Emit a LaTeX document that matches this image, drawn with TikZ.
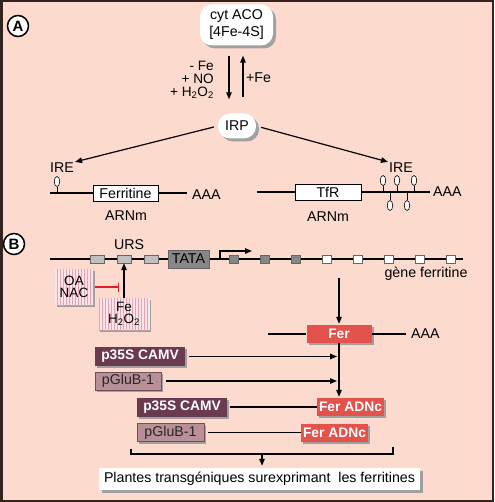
\documentclass[tikz,border=0pt]{standalone}
\usepackage{fontspec}
\setmainfont{Liberation Sans}
\usetikzlibrary{arrows.meta,shapes.geometric,shadows,patterns}

\definecolor{bgpink}{RGB}{252,218,206}
\definecolor{framebrown}{RGB}{50,35,30}
\definecolor{shadowgray}{RGB}{160,160,160}
\definecolor{ferred}{RGB}{228,82,76}
\definecolor{promdark}{RGB}{108,58,78}
\definecolor{promlight}{RGB}{186,144,152}
\definecolor{promedge}{RGB}{110,80,88}
\definecolor{ursgray}{RGB}{192,192,192}
\definecolor{tatagray}{RGB}{135,135,135}
\definecolor{stripebg}{RGB}{251,230,234}
\definecolor{stripered}{RGB}{232,160,178}
\definecolor{inhibred}{RGB}{222,30,45}

\newcommand{\dfont}{\fontsize{14.2}{16}\selectfont}

\tikzset{
  grayshadow/.style={drop shadow={shadow xshift=#1,shadow yshift=-#1,fill=shadowgray,opacity=1}},
  grayshadow/.default=3pt,
  conn/.style={line width=1.2pt},
  arr/.style={conn,-{Triangle[length=7pt,width=5.5pt]}},
  tag/.style={circle,draw,line width=1.5pt,fill=white,minimum size=21pt,inner sep=0pt,font=\fontsize{15}{16}\selectfont\bfseries},
  bubble/.style={fill=white,rounded corners=12pt,grayshadow,align=center,inner sep=0pt},
  mbox/.style={draw,line width=0.6pt,fill=white,minimum height=16pt,inner sep=0pt},
  stemloop/.style={ellipse,draw,line width=0.6pt,fill=white,minimum width=5.5pt,minimum height=10pt,inner sep=0pt},
  ursbox/.style={draw=black!60,line width=0.4pt,fill=ursgray,minimum width=14pt,minimum height=8pt,inner sep=0pt},
  exon/.style={draw=black!60,line width=0.4pt,minimum width=9pt,minimum height=8pt,inner sep=0pt},
  tatabox/.style={draw=black!60,line width=0.4pt,fill=tatagray,minimum width=41pt,minimum height=18pt,inner sep=0pt},
  stripebox/.style={fill=stripebg,postaction={pattern=vertical lines,pattern color=stripered},grayshadow=1.5pt,align=center,inner sep=0pt,font=\fontsize{13.5}{12.5}\selectfont},
  ferbox/.style={fill=ferred,text=white,grayshadow=2pt,minimum height=18pt,inner sep=0pt,font=\fontsize{13.8}{16}\selectfont\bfseries},
  pdark/.style={fill=promdark,text=white,grayshadow=2pt,minimum height=19pt,inner sep=0pt,font=\fontsize{13.8}{16}\selectfont\bfseries},
  plight/.style={fill=promlight,draw=promedge,line width=0.5pt,text=black!85,grayshadow=2pt,minimum height=18pt,inner sep=0pt},
  whitebox/.style={fill=white,grayshadow=2.5pt,minimum height=22pt,inner sep=0pt}
}

\begin{document}
\begin{tikzpicture}[x=1pt,y=-1pt,font=\dfont]
\useasboundingbox (0,0) rectangle (494,502);
\fill[bgpink] (0,0) rectangle (494,502);
\draw[framebrown,line width=2.5pt] (1.25,1.25) rectangle (492.75,500.75);

\node[tag] (tagA) at (18,26) {A};
\node[bubble,minimum width=73pt,minimum height=41pt,font=\fontsize{14.2}{17}\selectfont] (aco) at (236.5,25) {cyt ACO\\{[4Fe-4S]}};
\node[bubble,minimum width=38pt,minimum height=25pt] (irp) at (237,126) {IRP};
\coordinate (acoL) at ([xshift=-7.5pt]aco.south);
\coordinate (acoR) at ([xshift=6.5pt]aco.south);
\draw[arr,shorten <=10pt,shorten >=14pt] (acoL) -- (acoL |- irp.north);
\draw[arr,shorten <=16pt,shorten >=10pt] (acoR |- irp.north) -- (acoR);
\node[anchor=east,align=right,inner sep=0pt,font=\fontsize{13.6}{13}\selectfont] (loss) at (214,80) {- Fe\\+ NO\\+ H\textsubscript{2}O\textsubscript{2}};
\node[anchor=west,inner sep=0pt] (gain) at (246,78) {+Fe};

\node[inner sep=1pt] (ireL) at (62,168) {IRE};
\node[inner sep=1pt] (ireR) at (401,168) {IRE};
\draw[arr,shorten <=4pt] (irp.west) -- (ireL.north east);
\draw[arr,shorten <=5pt] (irp.east) -- (ireR.north west);

\coordinate (mL0) at (50,193);
\coordinate (mL1) at (187,193);
\node[mbox,minimum width=65pt] (ferr) at (125.5,193) {Ferritine};
\draw[conn] (mL0) -- (ferr);
\draw[conn] (ferr) -- (mL1);
\node[anchor=west,inner sep=0pt] (aaaL) at (192,195) {AAA};
\node (arnL) at (126,216) {ARNm};
\node[stemloop] (lpL) at (57,181.5) {};
\draw[line width=0.6pt] (lpL.south) -- (lpL.south |- mL0);

\coordinate (mR0) at (257,192);
\coordinate (mR1) at (430,192);
\node[mbox,minimum width=66pt] (tfr) at (328,192) {TfR};
\draw[conn] (mR0) -- (tfr);
\draw[conn] (tfr) -- (mR1);
\node[anchor=west,inner sep=0pt] (aaaR) at (433,192) {AAA};
\node (arnR) at (328,217) {ARNm};
\foreach \x [count=\i] in {383,397,414} {
  \node[stemloop] (up\i) at (\x,180.5) {};
  \draw[line width=0.6pt] (up\i.south) -- (up\i.south |- mR0);
}
\foreach \x [count=\i] in {390,407} {
  \node[stemloop] (dn\i) at (\x,205.5) {};
  \draw[line width=0.6pt] (dn\i.north) -- (dn\i.north |- mR0);
}

\node[tag] (tagB) at (14,244) {B};
\coordinate (g0) at (50,259);
\coordinate (g1) at (463,259);
\draw[conn] (g0) -- (g1);
\foreach \x [count=\i] in {97,124,151}
  \node[ursbox] (urs\i) at (\x,259) {};
\node (urslbl) at (129,245) {URS};
\node[tatabox] (tata) at (188.5,259) {TATA};
\foreach \x [count=\i] in {234,265,296}
  \node[exon,fill=tatagray] (ex\i) at (\x,259) {};
\foreach \x [count=\i from 4] in {327,358,389,420,451}
  \node[exon,fill=white] (ex\i) at (\x,259) {};
\coordinate (tss) at (220,259);
\coordinate (tssend) at (252,251);
\draw[arr] (tss) |- (tssend);
\node (genelbl) at (426,274) {gène ferritine};

\node[stripebox,minimum width=38pt,minimum height=36pt] (oanac) at (74,287) {OA\\NAC};
\node[stripebox,minimum width=51pt,minimum height=32pt] (feh) at (124,314) {Fe\\H\textsubscript{2}O\textsubscript{2}};
\draw[arr] (feh.north) -- (urs2.south);
\draw[inhibred,conn,-{Bar[width=9pt]},shorten <=2pt,shorten >=5pt] (oanac.east) -- (oanac.east -| feh.north);

\coordinate (gout) at (339,278);
\node[ferbox,minimum width=65pt] (fer) at (339,334) {Fer};
\draw[arr,shorten >=1pt] (gout) -- (fer.north);
\coordinate (fL) at (268,334);
\coordinate (fR) at (406,334);
\draw[conn] (fL) -- (fer);
\draw[conn] (fer) -- (fR);
\node[anchor=west,inner sep=0pt] (aaaF) at (411,334) {AAA};

\node[pdark,minimum width=90pt] (p35a) at (140,356.5) {p35S CAMV};
\node[plight,minimum width=66pt] (glua) at (128,381) {pGluB-1};
\node[pdark,minimum width=90pt] (p35b) at (182,407) {p35S CAMV};
\node[plight,minimum width=67pt] (glub) at (170.5,432.5) {pGluB-1};
\node[ferbox,minimum width=67pt] (adna) at (350.5,407) {Fer ADNc};
\node[ferbox,minimum width=67pt] (adnb) at (334.5,432.5) {Fer ADNc};

\draw[arr,shorten <=4pt,shorten >=2pt] (p35a.east) -- (p35a.east -| fer.south);
\draw[arr,shorten <=5pt,shorten >=2pt] (glua.east) -- (glua.east -| fer.south);
\draw[arr,shorten >=1pt] (fer.south) -- (fer.south |- adna.north);
\draw[conn,shorten <=3pt] (p35b.east) -- (adna.west);
\draw[conn,shorten <=4pt] (glub.east) -- (adnb.west);

\coordinate (brL) at (131,449);
\coordinate (brR) at (393,447);
\coordinate (brM) at (262,454);
\node[whitebox,minimum width=321pt] (plantes) at (259.5,479) {Plantes transgéniques surexprimant\ \ les ferritines};
\draw[conn] (brL) |- (brM) -| (brR);
\draw[arr,shorten >=2pt] (brM) -- (brM |- plantes.north);
\end{tikzpicture}
\end{document}
